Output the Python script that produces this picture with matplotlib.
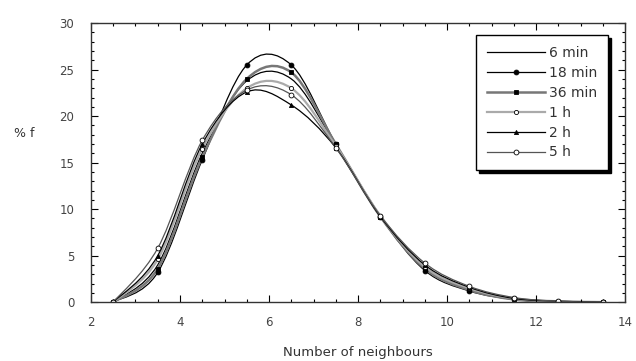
import numpy as np
import matplotlib
matplotlib.use("Agg")
import matplotlib.pyplot as plt
from matplotlib.path import Path
from matplotlib.patches import PathPatch
from matplotlib.lines import Line2D
from matplotlib.ticker import MultipleLocator

# neighbour counts (bin centres)
neigh = [2.5, 3.5, 4.5, 5.5, 6.5, 7.5, 8.5, 9.5, 10.5, 11.5, 12.5, 13.5]

labels = ["6 min", "18 min", "36 min", "1 h", "2 h", "5 h"]
f_6min = [0, 4.0, 16.0, 23.8, 24.0, 16.9, 9.2, 3.7, 1.4, 0.3, 0.05, 0]
f_18min = [0, 3.2, 15.3, 25.5, 25.5, 17.0, 9.2, 3.4, 1.2, 0.3, 0.05, 0]
f_36min = [0, 3.6, 15.6, 24.0, 24.7, 17.0, 9.2, 3.6, 1.3, 0.3, 0.05, 0]
f_1h = [0, 4.6, 16.5, 23.0, 23.0, 16.8, 9.3, 3.8, 1.5, 0.4, 0.1, 0]
f_2h = [0, 5.0, 17.0, 22.6, 21.2, 16.6, 9.2, 4.0, 1.6, 0.4, 0.1, 0]
f_5h = [0, 5.8, 17.4, 22.8, 22.3, 16.6, 9.3, 4.2, 1.7, 0.5, 0.1, 0]
series = [f_6min, f_18min, f_36min, f_1h, f_2h, f_5h]

styles = [
    dict(color="black", lw=0.9, marker=None, mfc="black", ms=0),
    dict(color="black", lw=0.9, marker="o", mfc="black", ms=3.5),
    dict(color="#777777", lw=1.8, marker="s", mfc="black", ms=3.5),
    dict(color="#aaaaaa", lw=1.6, marker="o", mfc="white", ms=3),
    dict(color="black", lw=0.9, marker="^", mfc="black", ms=3),
    dict(color="#555555", lw=0.9, marker="o", mfc="white", ms=3.5),
]


def smooth_path(x, y):
    # catmull-rom segments as cubic bezier, in data coords
    p = np.column_stack([x, y]).astype(float)
    ext = np.vstack([p[0], p, p[-1]])
    verts = [p[0]]
    codes = [Path.MOVETO]
    for i in range(1, len(ext) - 2):
        c1 = ext[i] + (ext[i + 1] - ext[i - 1]) / 6
        c2 = ext[i + 1] - (ext[i + 2] - ext[i]) / 6
        verts += [c1, c2, ext[i + 1]]
        codes += [Path.CURVE4] * 3
    return Path(verts, codes)


fig, ax = plt.subplots(figsize=(6.36, 3.61), dpi=100)
fig.subplots_adjust(left=0.143, right=0.983, top=0.936, bottom=0.163)

handles = []
for lab, vals, st in zip(labels, series, styles):
    patch = PathPatch(smooth_path(neigh, vals), facecolor="none",
                      edgecolor=st["color"], lw=st["lw"])
    ax.add_patch(patch)
    if st["marker"]:
        ax.plot(neigh, vals, ls="none", marker=st["marker"], ms=st["ms"],
                mfc=st["mfc"], mec="black", mew=0.6)
    handles.append(Line2D([], [], color=st["color"], lw=st["lw"],
                          marker=st["marker"], ms=st["ms"], mfc=st["mfc"],
                          mec="black", mew=0.6))

ax.set_xlim(2, 14)
ax.set_ylim(0, 30)
ax.xaxis.set_major_locator(MultipleLocator(2))
ax.xaxis.set_minor_locator(MultipleLocator(0.5))
ax.yaxis.set_major_locator(MultipleLocator(5))
ax.yaxis.set_minor_locator(MultipleLocator(1))
ax.tick_params(which="both", direction="in", top=True, right=True,
               labelsize=8.5, labelcolor="#444444", width=0.8)
ax.tick_params(which="major", length=5)
ax.tick_params(axis="y", which="major", pad=12)
ax.tick_params(axis="x", which="major", pad=10)
ax.tick_params(which="minor", length=2.5)
for s in ax.spines.values():
    s.set_linewidth(1.0)
    s.set_color("#333333")

ax.set_xlabel("Number of neighbours", fontsize=9.5, color="#333333",
              labelpad=12)
ax.set_ylabel("% f", fontsize=9, color="#333333", rotation=0, ha="center")
ax.yaxis.set_label_coords(-0.124, 0.58)

leg = ax.legend(handles, labels, loc="upper right",
                bbox_to_anchor=(0.968, 0.957), borderaxespad=0,
                fontsize=10, frameon=True, fancybox=False,
                shadow={"color": "black", "alpha": 1},
                edgecolor="black", handlelength=4.2, handletextpad=0.25,
                labelspacing=0.42, borderpad=0.8, labelcolor="#333333")
leg.get_frame().set_linewidth(1.0)

fig.savefig("out.png", dpi=100)
